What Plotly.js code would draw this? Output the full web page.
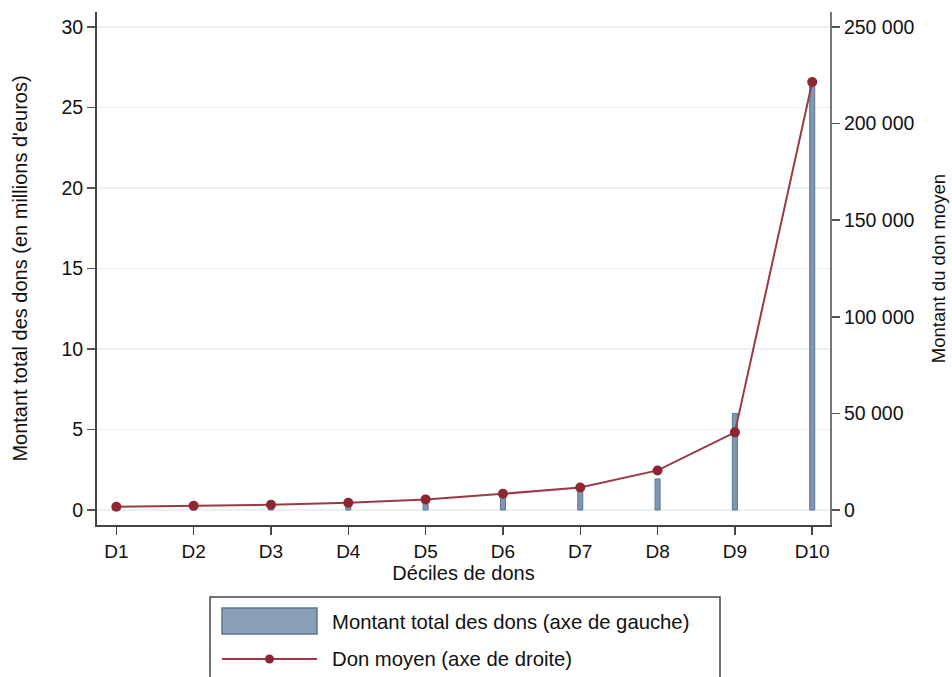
<!DOCTYPE html>
<html>
<head>
<meta charset="utf-8">
<script src="https://cdn.plot.ly/plotly-3.0.1.min.js"></script>
<style>html,body{margin:0;padding:0;background:#fff;}#chart{width:952px;height:677px;}</style>
</head>
<body>
<div id="chart"></div>
<script>
var deciles = ['D1','D2','D3','D4','D5','D6','D7','D8','D9','D10'];
var totalDons = [0.05, 0.08, 0.12, 0.3, 0.5, 0.9, 1.5, 1.93, 6.0, 26.4];
var donMoyen = [1700, 2200, 2750, 3800, 5500, 8400, 11700, 20500, 40200, 221500];
var nameBars = 'Montant total des dons (axe de gauche)';
var nameLine = 'Don moyen (axe de droite)';
var leftTicks = [0, 5, 10, 15, 20, 25, 30];
var rightTicks = [0, 50000, 100000, 150000, 200000, 250000];

var barColor = '#7f97b0', barEdge = '#5b7795';
var lineColor = '#9b3a46', markColor = '#8c2633';
var font = 'Liberation Sans, Arial, sans-serif';

var traces = [
  {type:'bar', x:deciles, y:totalDons, name:nameBars, width:0.065,
   marker:{color:barColor, line:{color:barEdge, width:1}}, yaxis:'y', showlegend:false},
  {type:'scatter', mode:'lines+markers', x:deciles, y:donMoyen, name:nameLine, yaxis:'y2',
   line:{color:lineColor, width:2}, marker:{color:markColor, size:10}, showlegend:false}
];

var lo = -0.93, hi = 30.93, k = 250000/30;
var layout = {
  width:952, height:677,
  margin:{l:97, r:122, t:12, b:152},
  paper_bgcolor:'#fff', plot_bgcolor:'#fff',
  separators:', ',
  font:{family:font, size:19, color:'#111'},
  showlegend:false,
  xaxis:{type:'category', range:[-0.25, 9.23], showgrid:false, zeroline:false,
    showline:true, linecolor:'#444', linewidth:2, ticks:'outside', ticklen:8, tickwidth:1.5, tickcolor:'#444',
    tickfont:{size:19}, title:{text:'Déciles de dons', font:{size:20}, standoff:0}},
  yaxis:{range:[lo, hi], tickvals:leftTicks, showgrid:true, gridcolor:'#e9f1f3', gridwidth:1.5,
    zeroline:false, showline:true, linecolor:'#444', linewidth:2, ticks:'outside', ticklen:8, tickwidth:1.5, tickcolor:'#555',
    tickfont:{size:19.5}, title:{text:"Montant total des dons (en millions d'euros)", font:{size:20}, standoff:28}},
  yaxis2:{overlaying:'y', side:'right', range:[lo*k, hi*k], tickvals:rightTicks, tickformat:',d',
    showgrid:false, zeroline:false, showline:true, linecolor:'#777', linewidth:2, ticks:'outside', ticklen:8, tickwidth:1.5, tickcolor:'#555',
    tickfont:{size:19.5}, title:{text:'Montant du don moyen', font:{size:18.5}, standoff:19}},
  shapes:[
    {type:'rect', xref:'paper', yref:'paper', x0:(210-97)/733, x1:(720-97)/733, y0:(525-690)/513, y1:(525-597)/513,
     line:{color:'#444', width:1.5}, fillcolor:'#fff'},
    {type:'rect', xref:'paper', yref:'paper', x0:(222-97)/733, x1:(317-97)/733, y0:(525-634)/513, y1:(525-608)/513,
     line:{color:barEdge, width:1.5}, fillcolor:'#8aa0b7'},
    {type:'line', xref:'paper', yref:'paper', x0:(222-97)/733, x1:(317-97)/733, y0:(525-659)/513, y1:(525-659)/513,
     line:{color:lineColor, width:2}},
    {type:'circle', xref:'paper', yref:'paper', x0:(265-97)/733, x1:(274-97)/733, y0:(525-663.5)/513, y1:(525-654.5)/513,
     line:{color:markColor, width:0}, fillcolor:markColor}
  ],
  annotations:[
    {xref:'paper', yref:'paper', x:(330-97)/733, y:(525-622)/513, xanchor:'left', yanchor:'middle', showarrow:false,
     text:nameBars, font:{size:20.3, color:'#111'}},
    {xref:'paper', yref:'paper', x:(330-97)/733, y:(525-659)/513, xanchor:'left', yanchor:'middle', showarrow:false,
     text:nameLine, font:{size:20.3, color:'#111'}}
  ]
};
Plotly.newPlot('chart', traces, layout, {displayModeBar:false, staticPlot:true});
</script>
</body>
</html>
